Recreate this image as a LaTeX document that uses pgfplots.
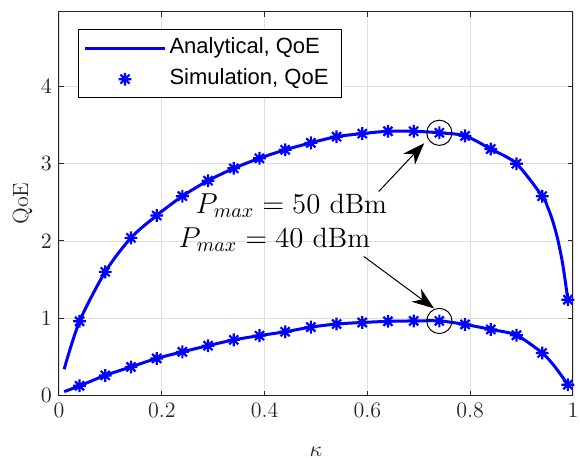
\documentclass[border=0pt]{standalone}
\usepackage{fontspec}
\usepackage{pgfplots}
\pgfplotsset{compat=1.18}
\usetikzlibrary{arrows.meta}
\newfontfamily\legfont{Liberation Sans}
\pgfdeclareplotmark{mstar}{%
  \pgfpathmoveto{\pgfpoint{-\pgfplotmarksize}{0pt}}\pgfpathlineto{\pgfpoint{\pgfplotmarksize}{0pt}}%
  \pgfpathmoveto{\pgfpoint{0pt}{-\pgfplotmarksize}}\pgfpathlineto{\pgfpoint{0pt}{\pgfplotmarksize}}%
  \pgfpathmoveto{\pgfpoint{-0.707\pgfplotmarksize}{-0.707\pgfplotmarksize}}\pgfpathlineto{\pgfpoint{0.707\pgfplotmarksize}{0.707\pgfplotmarksize}}%
  \pgfpathmoveto{\pgfpoint{-0.707\pgfplotmarksize}{0.707\pgfplotmarksize}}\pgfpathlineto{\pgfpoint{0.707\pgfplotmarksize}{-0.707\pgfplotmarksize}}%
  \pgfusepathqstroke}
\pgfplotstableread{
k q
0.04 0.96
0.09 1.60
0.14 2.04
0.19 2.33
0.24 2.58
0.29 2.78
0.34 2.94
0.39 3.07
0.44 3.18
0.49 3.27
0.54 3.35
0.59 3.39
0.64 3.42
0.69 3.42
0.74 3.40
0.79 3.36
0.84 3.19
0.89 3.00
0.94 2.58
0.99 1.24
}\simhigh
\pgfplotstableread{
k q
0.04 0.125
0.09 0.26
0.14 0.37
0.19 0.48
0.24 0.565
0.29 0.645
0.34 0.72
0.39 0.775
0.44 0.825
0.49 0.885
0.54 0.925
0.59 0.945
0.64 0.96
0.69 0.965
0.74 0.965
0.79 0.92
0.84 0.855
0.89 0.78
0.94 0.55
0.99 0.14
}\simlow
\begin{document}
\begin{tikzpicture}
\begin{axis}[
  name=ax,
  scale only axis,
  width=257pt, height=192pt,
  xmin=0, xmax=1, ymin=0, ymax=4.97,
  xtick={0,0.2,0.4,0.6,0.8,1},
  xticklabels={0,0.2,0.4,0.6,0.8,1},
  ytick={0,1,2,3,4},
  grid=major,
  major grid style={color=black!13, line width=0.4pt},
  axis line style={color=black!85, line width=0.5pt},
  tick style={color=black!85, line width=0.5pt},
  tick align=inside,
  xtick pos=both, ytick pos=both,
  major tick length=2.5pt,
  tick label style={font=\fontsize{11}{13}\selectfont, color=black!85},
  xlabel={$\kappa$},
  ylabel={QoE},
  label style={font=\fontsize{11}{13}\selectfont, color=black!85},
  xlabel style={at={(axis description cs:0.5,0)}, anchor=north, yshift=-22.5pt},
  ylabel style={at={(axis description cs:-0.071,0.5)}, anchor=center},
  legend image code/.code={\draw[mark repeat=2,mark phase=2,#1] plot coordinates {(0pt,0pt)(20pt,0pt)(40pt,0pt)};},
  legend cell align=left,
  legend style={at={(axis description cs:0.037,0.954)}, anchor=north west,
    draw=black, line width=0.5pt, fill=white,
    font=\legfont\fontsize{11}{13}\selectfont,
    inner xsep=2.5pt, inner ysep=1.5pt,
    nodes={text height=8pt, text depth=2.5pt, inner ysep=2.5pt, inner xsep=1.5pt}},
]
\addplot[blue, line width=1.5pt, smooth] coordinates {
(0.01,0.34) (0.04,0.96) (0.09,1.60) (0.14,2.04) (0.19,2.33) (0.24,2.58) (0.29,2.78)
(0.34,2.94) (0.39,3.07) (0.44,3.18) (0.49,3.27) (0.54,3.35) (0.59,3.39) (0.64,3.42)
(0.69,3.42) (0.74,3.40) (0.79,3.36) (0.84,3.19) (0.89,3.00) (0.94,2.58)
(0.95,2.45) (0.96,2.27) (0.97,2.03) (0.98,1.70) (0.99,1.24)};
\addlegendentry{Analytical, QoE}
\addplot[blue, only marks, mark=mstar, mark size=3.2pt, mark options={line width=1.1pt}] table[x=k,y=q] {\simhigh};
\addlegendentry{Simulation, QoE\kern2.5pt}
\addplot[blue, line width=1.5pt, smooth, forget plot] coordinates {
(0.01,0.05) (0.04,0.125) (0.09,0.26) (0.14,0.37) (0.19,0.48) (0.24,0.565) (0.29,0.645)
(0.34,0.72) (0.39,0.775) (0.44,0.825) (0.49,0.885) (0.54,0.925) (0.59,0.945) (0.64,0.96)
(0.69,0.965) (0.74,0.965) (0.79,0.92) (0.84,0.855) (0.89,0.78) (0.94,0.55)
(0.965,0.37) (0.99,0.14)};
\addplot[blue, only marks, mark=mstar, mark size=3.2pt, mark options={line width=1.1pt}, forget plot] table[x=k,y=q] {\simlow};
\draw[black, line width=0.5pt] (axis cs:0.74,3.40) circle[radius=6.3pt];
\draw[black, line width=0.5pt] (axis cs:0.74,0.965) circle[radius=6.3pt];
\draw[black, line width=0.5pt, -{Stealth[length=11pt,width=8pt,inset=3.5pt]}] (axis cs:0.622,2.64) -- (axis cs:0.7105,3.266);
\draw[black, line width=0.5pt, -{Stealth[length=11pt,width=8pt,inset=3.5pt]}] (axis cs:0.593,1.80) -- (axis cs:0.7296,1.128);
\node[anchor=base west, inner sep=0pt, font=\fontsize{14}{16}\selectfont] at (axis cs:0.265,2.36) {$P_{max} = 50$ dBm};
\node[anchor=base west, inner sep=0pt, font=\fontsize{14}{16}\selectfont] at (axis cs:0.232,1.92) {$P_{max} = 40$ dBm};
\end{axis}
\pgfresetboundingbox
\path[use as bounding box] ([shift={(-29.5pt,-30.9pt)}]ax.south west) rectangle ([shift={(3.5pt,5.75pt)}]ax.north east);
\end{tikzpicture}
\end{document}
